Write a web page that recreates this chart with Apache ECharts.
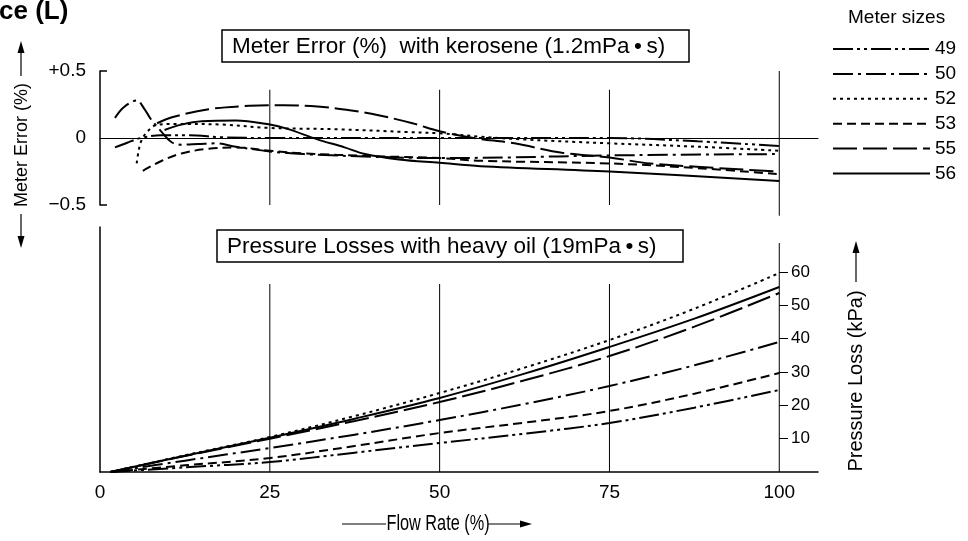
<!DOCTYPE html>
<html>
<head>
<meta charset="utf-8">
<script src="https://cdn.jsdelivr.net/npm/echarts@6/dist/echarts.min.js"></script>
<style>
    html, body { margin: 0; padding: 0; background: #fff; }
    #main { width: 968px; height: 541px; }
</style>
</head>
<body>
<div id="main"></div>
<script>
// meter sizes (legend)
var meterSizes = ["49", "50", "52", "53", "55", "56"];

// ticks
var flowTicks = [0, 25, 50, 75, 100];
var errorTicks = [-0.5, 0, 0.5];
var lossTicks = [10, 20, 30, 40, 50, 60];

// meter error with kerosene, [flow %, error %]
var err49 = [[2.2, -0.07], [4, -0.035], [6, 0], [9, 0.02], [13, 0.02], [18, 0.005], [25, 0], [40, 0], [50, 0], [60, 0], [75, 0], [88, -0.025], [100, -0.06]];
var err50 = [[2.2, 0.15], [3.5, 0.23], [5.4, 0.28], [6.5, 0.22], [7.5, 0.14], [9, 0.05], [10.5, -0.03], [12, -0.05], [14.5, -0.045], [17, -0.04], [20, -0.065], [25, -0.1], [30, -0.12], [40, -0.14], [50, -0.15], [60, -0.145], [75, -0.13], [100, -0.12]];
var err52 = [[5.4, -0.19], [5.7, -0.09], [6.1, -0.02], [7, 0.05], [8.5, 0.1], [12, 0.105], [18, 0.1], [25, 0.075], [35, 0.065], [45, 0.045], [50, 0.035], [56, 0.01], [62, -0.01], [75, -0.04], [88, -0.065], [100, -0.095]];
var err53 = [[6.3, -0.245], [9.1, -0.17], [12, -0.115], [16, -0.08], [20, -0.07], [25, -0.095], [30, -0.115], [40, -0.135], [50, -0.15], [56, -0.17], [75, -0.19], [88, -0.225], [100, -0.27]];
var err55 = [[8.4, 0.11], [10.6, 0.155], [16, 0.215], [22, 0.24], [27, 0.245], [32, 0.235], [37, 0.205], [41, 0.17], [46, 0.11], [50, 0.05], [55, 0], [61, -0.04], [68, -0.11], [75, -0.145], [81, -0.19], [100, -0.25]];
var err56 = [[9.5, 0.06], [12, 0.1], [15, 0.125], [20, 0.13], [25, 0.1], [27.5, 0.07], [32, -0.01], [36, -0.07], [39, -0.12], [44, -0.16], [50, -0.185], [56, -0.21], [75, -0.25], [100, -0.32]];

// pressure loss with heavy oil (kPa) at these flow rates
var lossFlow = [1.5, 12.5, 25, 37.5, 50, 62.5, 75, 87.5, 100];
var loss49 = [0, 1.4, 3, 5.8, 8.7, 11.5, 14.7, 19.3, 24.6];
var loss50 = [0, 3.4, 7.2, 11.2, 15.6, 20.4, 25.8, 32, 39];
var loss52 = [0, 5, 10.5, 16.8, 23.7, 31.3, 39.6, 49, 59.7];
var loss53 = [0, 2, 4.2, 7.8, 11.7, 14.8, 18.3, 23.5, 29.7];
var loss55 = [0, 4.8, 10, 15.3, 21, 27.5, 34.8, 43.6, 53.7];
var loss56 = [0, 4.9, 10.3, 16, 22.2, 29.5, 37.5, 46, 55.5];

var FONT = "'Liberation Sans', Arial, sans-serif";

var dashes = {
    "49": [20, 4, 3, 4, 3, 4],
    "50": [20, 5, 3, 5],
    "52": [3, 4],
    "53": [9, 5],
    "55": [24, 6],
    "56": "solid"
};

function pairs(xs, ys) {
    return xs.map(function (x, i) { return [x, ys[i]]; });
}

function curve(name, data, gi) {
    return {
        name: name,
        type: "line",
        xAxisIndex: gi,
        yAxisIndex: gi,
        data: data,
        smooth: 0.35,
        symbol: "none",
        silent: true,
        lineStyle: { color: "#000", width: 2, type: dashes[name] },
        itemStyle: { color: "#000" }
    };
}

// thin vertical reference lines, drawn in data units
function vline(gi, x, y0, y1) {
    return {
        type: "line",
        xAxisIndex: gi,
        yAxisIndex: gi,
        data: [[x, y0], [x, y1]],
        symbol: "none",
        silent: true,
        clip: false,
        lineStyle: { color: "#000", width: 1 }
    };
}

var series = [
    curve("49", err49, 0),
    curve("50", err50, 0),
    curve("52", err52, 0),
    curve("53", err53, 0),
    curve("55", err55, 0),
    curve("56", err56, 0),
    curve("49", pairs(lossFlow, loss49), 1),
    curve("50", pairs(lossFlow, loss50), 1),
    curve("52", pairs(lossFlow, loss52), 1),
    curve("53", pairs(lossFlow, loss53), 1),
    curve("55", pairs(lossFlow, loss55), 1),
    curve("56", pairs(lossFlow, loss56), 1),
    vline(0, 25, -0.5, 0.36),
    vline(0, 50, -0.5, 0.36),
    vline(0, 75, -0.5, 0.36),
    vline(0, 100, -0.58, 0.5),
    vline(1, 25, 0, 56.4),
    vline(1, 50, 0, 56.4),
    vline(1, 75, 0, 56.4),
    vline(1, 100, 0, 68.7)
];

var boxText = { fontSize: 22.5, fontWeight: "normal", color: "#000", fontFamily: FONT, lineHeight: 23 };

var chartDom = document.getElementById("main");
var myChart = echarts.init(chartDom);
var option = {
    backgroundColor: "#fff",
    animation: false,
    title: [
        {
            text: "ce (L)",
            left: -1,
            top: -1,
            padding: 0,
            textStyle: { fontSize: 26, fontWeight: "bold", color: "#000", fontFamily: FONT }
        },
        {
            text: "Meter Error (%)  with kerosene (1.2mPa\u2009\u2022\u2009s)",
            left: 222,
            top: 30,
            padding: [5, 24, 4, 10],
            borderColor: "#000",
            borderWidth: 1.5,
            textStyle: boxText
        },
        {
            text: "Pressure Losses with heavy oil (19mPa\u2009\u2022\u2009s)",
            left: 217,
            top: 230,
            padding: [5, 27, 4, 10],
            borderColor: "#000",
            borderWidth: 1.5,
            textStyle: boxText
        },
        {
            text: "Meter sizes",
            left: 848,
            top: 8,
            padding: 0,
            textStyle: { fontSize: 19, fontWeight: "normal", color: "#000", fontFamily: FONT }
        }
    ],
    legend: {
        data: meterSizes,
        orient: "vertical",
        left: 832,
        top: 39.5,
        padding: 0,
        itemWidth: 97,
        itemHeight: 16,
        itemGap: 5.9,
        selectedMode: false,
        itemStyle: { color: "rgba(0,0,0,0)", borderWidth: 0, opacity: 0 },
        textStyle: { fontSize: 19, lineHeight: 16, color: "#000", fontFamily: FONT }
    },
    grid: [
        { left: 100, right: 150, top: 71, height: 134 },
        { left: 100, right: 150, top: 227, bottom: 69 }
    ],
    xAxis: [
        {
            gridIndex: 0,
            type: "value",
            min: 0,
            max: 105.7,
            interval: 25,
            axisLine: { show: true, onZero: true, lineStyle: { color: "#000", width: 1 } },
            axisTick: { show: false },
            axisLabel: { show: false },
            splitLine: { show: false }
        },
        {
            gridIndex: 1,
            type: "value",
            min: 0,
            max: 105.7,
            interval: 25,
            axisLine: { show: true, lineStyle: { color: "#000", width: 1.5 } },
            axisTick: { show: false },
            axisLabel: {
                margin: 11,
                fontSize: 19,
                color: "#000",
                fontFamily: FONT,
                customValues: flowTicks
            },
            splitLine: { show: false }
        }
    ],
    yAxis: [
        {
            gridIndex: 0,
            type: "value",
            min: -0.5,
            max: 0.5,
            axisLine: { show: true, lineStyle: { color: "#000", width: 1.5 } },
            axisTick: { show: true, inside: true, length: 7, lineStyle: { color: "#000", width: 1.5 }, customValues: [-0.5, 0.5] },
            axisLabel: {
                margin: 14,
                fontSize: 19,
                color: "#000",
                fontFamily: FONT,
                customValues: errorTicks,
                formatter: function (v) {
                    if (v > 0) return "+" + v;
                    if (v < 0) return "\u2212" + Math.abs(v);
                    return "0";
                }
            },
            splitLine: { show: false }
        },
        {
            gridIndex: 1,
            type: "value",
            min: 0,
            max: 73.5,
            axisLine: { show: true, lineStyle: { color: "#000", width: 1.5 } },
            axisTick: { show: false },
            axisLabel: { show: false },
            splitLine: { show: false }
        },
        {
            gridIndex: 1,
            type: "value",
            position: "right",
            offset: -39,
            min: 0,
            max: 73.5,
            axisLine: { show: false },
            axisTick: { show: true, length: 9, lineStyle: { color: "#000", width: 1 }, customValues: lossTicks },
            axisLabel: { margin: 12, fontSize: 17, color: "#000", fontFamily: FONT, customValues: lossTicks },
            splitLine: { show: false }
        }
    ],
    graphic: [
        // left axis name with arrows
        { type: "line", silent: true, shape: { x1: 21, y1: 76, x2: 21, y2: 50 }, style: { stroke: "#000", lineWidth: 1.2 } },
        { type: "polygon", silent: true, shape: { points: [[21, 41], [17.5, 53], [24.5, 53]] }, style: { fill: "#000" } },
        { type: "text", silent: true, x: 22, y: 145, rotation: Math.PI / 2,
          style: { text: "Meter Error (%)", font: "18px " + FONT, align: "center", verticalAlign: "middle", fill: "#000" } },
        { type: "line", silent: true, shape: { x1: 21, y1: 214, x2: 21, y2: 238 }, style: { stroke: "#000", lineWidth: 1.2 } },
        { type: "polygon", silent: true, shape: { points: [[21, 248], [17.5, 236], [24.5, 236]] }, style: { fill: "#000" } },
        // right axis name with arrow
        { type: "text", silent: true, x: 856, y: 381, rotation: Math.PI / 2,
          style: { text: "Pressure Loss (kPa)", font: "20px " + FONT, align: "center", verticalAlign: "middle", fill: "#000" } },
        { type: "line", silent: true, shape: { x1: 856, y1: 282, x2: 856, y2: 252 }, style: { stroke: "#000", lineWidth: 1.2 } },
        { type: "polygon", silent: true, shape: { points: [[856, 241], [852.5, 253], [859.5, 253]] }, style: { fill: "#000" } },
        // x axis name with arrow
        { type: "line", silent: true, shape: { x1: 342, y1: 524, x2: 386, y2: 524 }, style: { stroke: "#000", lineWidth: 1.2 } },
        { type: "text", silent: true, x: 438, y: 524, scaleX: 0.74,
          style: { text: "Flow Rate (%)", font: "22px " + FONT, align: "center", verticalAlign: "middle", fill: "#000" } },
        { type: "line", silent: true, shape: { x1: 488, y1: 524, x2: 522, y2: 524 }, style: { stroke: "#000", lineWidth: 1.2 } },
        { type: "polygon", silent: true, shape: { points: [[532, 524], [520, 520.5], [520, 527.5]] }, style: { fill: "#000" } }
    ],
    series: series
};

option && myChart.setOption(option);
window.addEventListener("resize", function () {
    myChart.resize();
});
</script>
</body>
</html>
